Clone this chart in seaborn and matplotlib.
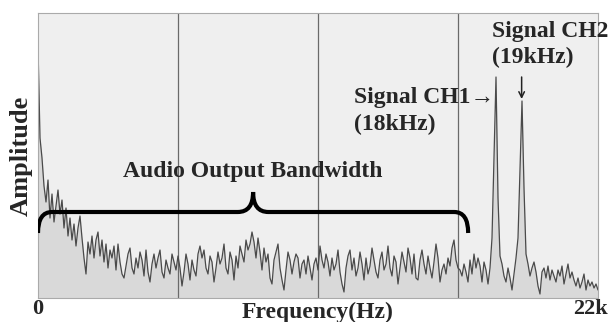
#!/usr/bin/env python3
import matplotlib.pyplot as plt
import matplotlib.patches as mpatches
import matplotlib.transforms as mtransforms
import numpy as np
import pandas as pd
import seaborn as sns
from matplotlib.path import Path

# spectrum (amplitude in arbitrary units, 0..285)
amplitude = [
    251, 160, 140, 112, 96, 118, 80, 104, 76, 92,
    108, 84, 98, 70, 90, 62, 80, 58, 74, 52,
    70, 82, 60, 40, 24, 56, 44, 62, 40, 58,
    66, 42, 58, 36, 54, 30, 48, 40, 52, 28,
    54, 36, 24, 20, 32, 44, 50, 30, 24, 40,
    30, 46, 38, 22, 48, 26, 16, 34, 44, 30,
    40, 48, 26, 20, 38, 30, 24, 44, 36, 28,
    42, 30, 12, 26, 44, 34, 18, 38, 28, 22,
    44, 52, 40, 48, 30, 24, 42, 36, 16, 30,
    46, 34, 40, 54, 30, 24, 46, 38, 18, 42,
    30, 52, 44, 36, 58, 48, 54, 66, 56, 40,
    60, 46, 28, 50, 36, 44, 20, 14, 38, 46,
    54, 30, 18, 8, 28, 46, 38, 24, 36, 44,
    40, 20, 34, 38, 24, 42, 30, 18, 34, 40,
    28, 52, 38, 30, 44, 36, 22, 40, 28, 34,
    48, 26, 14, 6, 30, 42, 48, 28, 40, 22,
    30, 46, 34, 18, 40, 24, 32, 50, 38, 26,
    20, 38, 46, 28, 34, 52, 30, 22, 42, 36,
    14, 30, 46, 36, 26, 50, 40, 24, 44, 20,
    18, 38, 48, 34, 24, 42, 30, 20, 36, 54,
    40, 16, 28, 34, 24, 40, 32, 50, 58, 38,
    30, 28, 22, 34, 26, 16, 38, 24, 44, 30,
    40, 32, 16, 36, 28, 14, 30, 60, 140, 221,
    100, 42, 34, 22, 16, 30, 20, 8, 24, 40,
    60, 130, 197, 110, 44, 34, 22, 30, 36, 26,
    12, 4, 26, 30, 20, 32, 18, 28, 22, 16,
    28, 22, 32, 14, 24, 34, 20, 26, 18, 12,
    20, 10, 16, 24, 8, 18, 12, 16, 10, 14, 8,
]
freq_khz = np.linspace(0, 22, len(amplitude))
grid_khz = [5.5, 11, 16.5]
tick_khz = [0, 22]
tick_labels = ["0", "22k"]

df = pd.DataFrame({"freq": freq_khz, "amp": amplitude})

sns.set_style("white", {"axes.facecolor": "#efefef"})
plt.rcParams["font.family"] = ["Liberation Serif", "DejaVu Serif"]
plt.rcParams["font.weight"] = "bold"

fig = plt.figure(figsize=(6.09, 3.22), dpi=100)
ax = fig.add_axes([38 / 609, 24 / 322, 560 / 609, 285 / 322])

ax.fill_between(df["freq"], df["amp"], color="#d9d9d9", lw=0)
sns.lineplot(data=df, x="freq", y="amp", ax=ax, color="#4a4a4a", lw=0.9)

for g in grid_khz:
    ax.axvline(g, color="#6a6a6a", lw=0.9, zorder=1)

ax.set_xlim(0, 22)
ax.set_ylim(0, 285)
ax.set_yticks([])
ax.set_xticks(tick_khz)
ax.set_xticklabels(tick_labels, fontsize=16, fontweight="bold")
ax.tick_params(axis="x", length=0, pad=1)
shift = mtransforms.ScaledTranslation(-8 / 100, 0, fig.dpi_scale_trans)
lab = ax.get_xticklabels()[-1]
lab.set_transform(lab.get_transform() + shift)
ax.set_xlabel("Frequency(Hz)", fontsize=17, fontweight="bold", labelpad=-13)
ax.set_ylabel("Amplitude", fontsize=19, fontweight="bold", labelpad=4)
for s in ax.spines.values():
    s.set_color("#aaaaaa")
    s.set_linewidth(0.8)

# curly brace over the audio band
x0, x1, xm, xa, xb = 0.0, 16.9, 8.45, 7.85, 9.05
yb, yh, yt = 65, 86, 106
verts = [
    (x0, yb), (x0, yh), (0.55, yh),
    (xa, yh),
    (xm, yh), (xm, yt),
    (xm, yh), (xb, yh),
    (16.35, yh),
    (x1, yh), (x1, yb),
]
codes = [
    Path.MOVETO, Path.CURVE3, Path.CURVE3,
    Path.LINETO,
    Path.CURVE3, Path.CURVE3,
    Path.CURVE3, Path.CURVE3,
    Path.LINETO,
    Path.CURVE3, Path.CURVE3,
]
ax.add_patch(mpatches.PathPatch(Path(verts, codes), fill=False, lw=3,
                                color="black", capstyle="butt", zorder=5))

ax.text(xm, 121, "Audio Output Bandwidth", ha="center", va="baseline",
        fontsize=17, fontweight="bold")
ax.text(12.4, 211, "Signal CH1\u2192\n(18kHz)", ha="left", va="top",
        fontsize=17, fontweight="bold", linespacing=1.38)
ax.text(17.85, 277, "Signal CH2\n(19kHz)", ha="left", va="top",
        fontsize=17, fontweight="bold", linespacing=1.3, clip_on=False)
ax.annotate("", xy=(19.0, 199), xytext=(19.0, 221),
            arrowprops=dict(arrowstyle="->", lw=1.1, color="#222222",
                            shrinkA=0, shrinkB=0))

fig.savefig("out.png", dpi=100)
